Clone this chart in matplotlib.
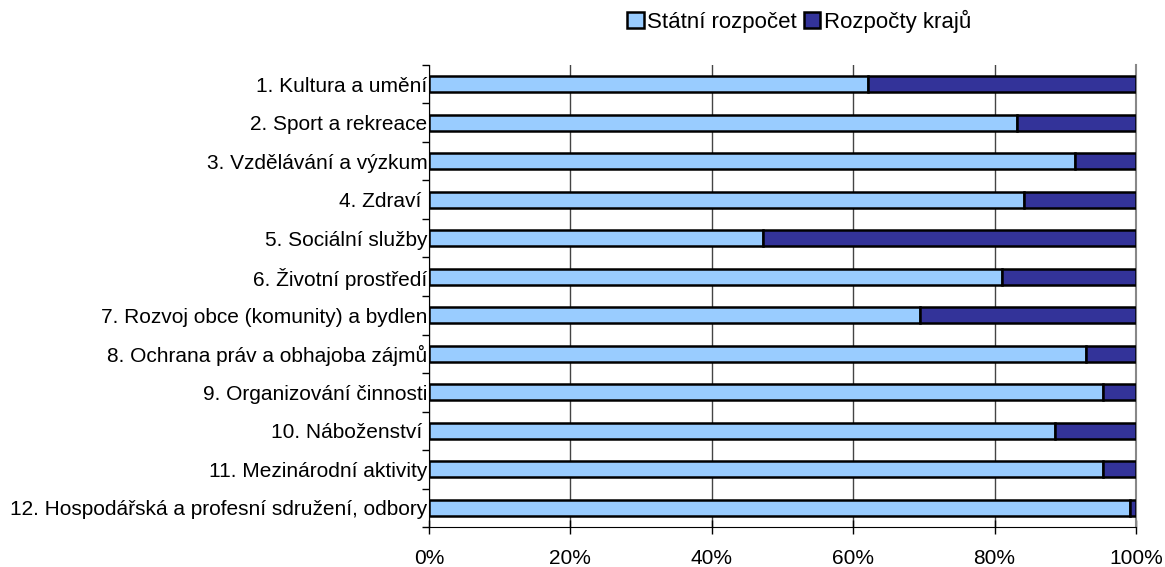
import numpy as np
import matplotlib.pyplot as plt
from matplotlib.ticker import FixedLocator, PercentFormatter

plt.rcParams['font.family'] = ['Liberation Sans', 'DejaVu Sans']

categories = [
    "1. Kultura a umění",
    "2. Sport a rekreace",
    "3. Vzdělávání a výzkum",
    "4. Zdraví ",
    "5. Sociální služby",
    "6. Životní prostředí",
    "7. Rozvoj obce (komunity) a bydlen",
    "8. Ochrana práv a obhajoba zájmů",
    "9. Organizování činnosti",
    "10. Náboženství ",
    "11. Mezinárodní aktivity",
    "12. Hospodářská a profesní sdružení, odbory",
]
statni = [62.1, 83.2, 91.4, 84.2, 47.2, 81.0, 69.4, 92.9, 95.4, 88.5, 95.4, 99.2]
kraje = [100 - v for v in statni]

fig = plt.figure(figsize=(11.65, 5.67), dpi=100)
ax = fig.add_axes([0.3682, 0.0705, 0.6069, 0.8149])

y = np.arange(len(categories))
ax.barh(y, statni, height=0.42, color='#99CCFF', edgecolor='black', linewidth=1.8,
        label='Státní rozpočet', zorder=3)
ax.barh(y, kraje, left=statni, height=0.42, color='#333399', edgecolor='black',
        linewidth=1.8, label='Rozpočty krajů', zorder=3)

ax.set_xlim(0, 100)
ax.set_ylim(len(categories) - 0.5, -0.5)
ax.set_xticks([0, 20, 40, 60, 80, 100])
ax.xaxis.set_major_formatter(PercentFormatter(decimals=0))
ax.set_yticks(y)
ax.set_yticklabels(categories)
ax.yaxis.set_minor_locator(FixedLocator(np.arange(-0.5, len(categories), 1)))
ax.tick_params(axis='y', which='major', length=0, pad=1, labelsize=15)
ax.tick_params(axis='y', which='minor', length=5, width=1, color='black')
ax.tick_params(axis='x', direction='inout', length=10, width=1, pad=10.5, labelsize=15)

ax.grid(axis='x', color='#444444', linewidth=1, zorder=0)
ax.spines['right'].set_color('#888888')
ax.spines['right'].set_linewidth(1.5)
ax.spines['left'].set_color('black')
ax.spines['bottom'].set_color('black')
ax.spines['top'].set_visible(False)

fig.legend(loc='center', bbox_to_anchor=(0.686, 0.962), ncol=2, frameon=False,
           fontsize=16, handlelength=0.75, handleheight=0.75, handletextpad=0.15,
           columnspacing=0.3, borderaxespad=0)

fig.savefig('out.png', dpi=100)
